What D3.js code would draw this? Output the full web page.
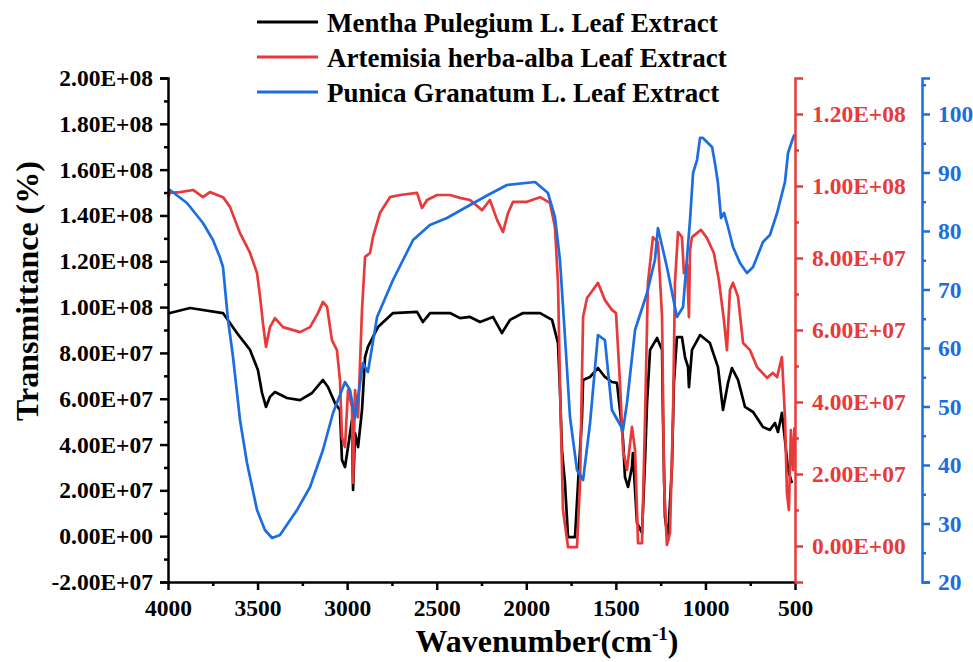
<!DOCTYPE html>
<html><head><meta charset="utf-8">
<script src="https://cdn.jsdelivr.net/npm/d3@7"></script>
<style>
body{margin:0;background:#fff}
text{font-family:"Liberation Serif","Times New Roman",serif;font-weight:bold}
</style>
</head><body>
<svg id="chart" width="973" height="662"></svg>
<script>
// ---------- data ----------
const seriesNames = ["Mentha Pulegium L. Leaf Extract","Artemisia herba-alba Leaf Extract","Punica Granatum L. Leaf Extract"];
const seriesColors = ["#000000","#e83a3a","#1c6ee0"];
const xTicks = [4000,3500,3000,2500,2000,1500,1000,500];
const xMinorTicks = [3750,3250,2750,2250,1750,1250,750];
const leftTicks = [-2e7,0,2e7,4e7,6e7,8e7,1e8,1.2e8,1.4e8,1.6e8,1.8e8,2e8];
const leftMinorTicks = [-1e7,1e7,3e7,5e7,7e7,9e7,1.1e8,1.3e8,1.5e8,1.7e8,1.9e8];
const redTicks = [0,2e7,4e7,6e7,8e7,1e8,1.2e8];
const redMinorTicks = [1e7,3e7,5e7,7e7,9e7,1.1e8];
const blueTicks = [20,30,40,50,60,70,80,90,100];
const blueMinorTicks = [25,35,45,55,65,75,85,95,105];

// Mentha Pulegium (left axis) [wavenumber, transmittance]
const mentha = [[4000,9.70e7],[3989,9.74e7],[3877,9.96e7],[3693,9.74e7],[3615,8.87e7],[3542,8.13e7],[3498,7.25e7],[3475,6.25e7],[3453,5.64e7],[3431,6.08e7],[3403,6.29e7],[3336,6.03e7],[3263,5.94e7],[3196,6.25e7],[3135,6.82e7],[3107,6.51e7],[3068,5.81e7],[3040,5.51e7],[3029,3.33e7],[3012,3.02e7],[2995,3.89e7],[2973,5.07e7],[2967,2.02e7],[2956,4.50e7],[2939,3.89e7],[2917,5.51e7],[2900,7.82e7],[2884,8.26e7],[2828,9.13e7],[2744,9.74e7],[2610,9.79e7],[2577,9.35e7],[2537,9.74e7],[2426,9.74e7],[2370,9.52e7],[2314,9.57e7],[2258,9.35e7],[2186,9.57e7],[2136,8.87e7],[2091,9.44e7],[2018,9.74e7],[1923,9.74e7],[1856,9.44e7],[1823,8.43e7],[1812,6.38e7],[1801,3.76e7],[1784,2.32e7],[1767,-0.04e7],[1728,-0.04e7],[1711,2.32e7],[1689,5.20e7],[1683,6.82e7],[1644,6.95e7],[1600,7.34e7],[1561,6.95e7],[1522,6.73e7],[1494,6.69e7],[1477,5.51e7],[1460,4.20e7],[1449,2.58e7],[1432,2.15e7],[1410,3.02e7],[1405,3.63e7],[1382,0.58e7],[1354,0.14e7],[1337,3.33e7],[1326,5.81e7],[1309,8.13e7],[1270,8.65e7],[1242,8.13e7],[1237,5.20e7],[1226,0.84e7],[1209,-0.17e7],[1187,3.02e7],[1176,6.69e7],[1159,8.69e7],[1131,8.69e7],[1114,7.82e7],[1097,7.38e7],[1092,6.51e7],[1075,8.13e7],[1030,8.78e7],[975,8.43e7],[930,7.38e7],[902,5.51e7],[874,6.69e7],[852,7.34e7],[818,6.82e7],[779,5.64e7],[734,5.42e7],[679,4.77e7],[640,4.64e7],[612,4.94e7],[595,4.55e7],[573,5.38e7],[556,4.20e7],[539,2.89e7],[517,2.32e7]];

// Artemisia herba-alba (red right axis)
const artemisia = [[4000,9.69e7],[3989,9.81e7],[3933,9.83e7],[3860,9.89e7],[3805,9.69e7],[3766,9.83e7],[3693,9.69e7],[3654,9.42e7],[3598,8.69e7],[3542,8.14e7],[3503,7.58e7],[3486,6.92e7],[3470,6.19e7],[3453,5.53e7],[3431,6.08e7],[3403,6.33e7],[3358,6.08e7],[3263,5.94e7],[3207,6.08e7],[3163,6.47e7],[3135,6.78e7],[3112,6.64e7],[3085,5.72e7],[3057,5.44e7],[3040,4.61e7],[3029,3.03e7],[3012,2.75e7],[2995,4.33e7],[2973,3.86e7],[2967,1.75e7],[2956,4.33e7],[2939,3.58e7],[2917,6.56e7],[2900,8.03e7],[2872,8.14e7],[2856,8.58e7],[2817,9.25e7],[2761,9.69e7],[2705,9.75e7],[2610,9.81e7],[2582,9.39e7],[2554,9.61e7],[2498,9.75e7],[2426,9.75e7],[2370,9.67e7],[2314,9.61e7],[2247,9.33e7],[2203,9.61e7],[2163,9.06e7],[2130,8.72e7],[2102,9.25e7],[2074,9.56e7],[1996,9.56e7],[1923,9.69e7],[1868,9.53e7],[1840,8.86e7],[1823,7.31e7],[1812,4.53e7],[1795,1.00e7],[1767,-0.03e7],[1717,-0.03e7],[1700,1.75e7],[1683,6.36e7],[1661,6.89e7],[1628,7.11e7],[1600,7.31e7],[1561,6.83e7],[1522,6.56e7],[1499,6.47e7],[1477,4.53e7],[1460,2.67e7],[1438,2.11e7],[1410,3.31e7],[1393,2.67e7],[1376,0.08e7],[1354,0.08e7],[1337,3.58e7],[1321,7.31e7],[1293,8.58e7],[1265,8.44e7],[1242,6.36e7],[1231,1.75e7],[1215,0.03e7],[1198,0.36e7],[1181,3.58e7],[1170,7.31e7],[1153,8.72e7],[1131,8.58e7],[1120,7.58e7],[1103,7.81e7],[1092,6.36e7],[1086,8.22e7],[1075,8.58e7],[1025,8.78e7],[992,8.56e7],[953,8.14e7],[925,7.39e7],[897,6.28e7],[880,5.44e7],[863,7.11e7],[846,7.31e7],[818,6.92e7],[790,5.64e7],[751,5.44e7],[712,4.97e7],[656,4.67e7],[623,4.81e7],[600,4.69e7],[573,5.25e7],[556,3.58e7],[545,1.47e7],[534,1.00e7],[523,3.22e7],[511,2.11e7],[503,3.30e7]];

// Punica Granatum (blue right axis)
const punica = [[4000,87.0],[3989,87.0],[3894,84.78],[3805,81.36],[3749,78.46],[3710,75.5],[3693,73.84],[3665,64.78],[3637,58.46],[3598,47.69],[3559,40.34],[3503,32.3],[3459,28.89],[3419,27.52],[3375,28.03],[3280,32.3],[3207,36.24],[3135,42.56],[3079,48.89],[3012,54.18],[2984,52.82],[2956,48.03],[2928,53.97],[2912,57.43],[2884,55.89],[2833,65.3],[2744,71.62],[2632,78.46],[2538,81.02],[2443,82.22],[2314,84.44],[2214,86.15],[2108,87.86],[1951,88.37],[1879,86.49],[1840,82.39],[1812,75.04],[1784,61.88],[1756,48.2],[1717,39.14],[1683,37.43],[1644,47.18],[1600,62.22],[1561,61.36],[1522,49.4],[1460,45.98],[1438,50.6],[1393,63.07],[1326,69.4],[1282,75.04],[1265,80.51],[1215,73.84],[1159,65.3],[1125,67.0],[1086,81.88],[1069,89.91],[1047,92.13],[1030,95.9],[1014,95.9],[986,95.04],[963,94.36],[947,91.62],[930,88.2],[913,82.22],[896,83.08],[874,80.68],[846,77.26],[807,74.53],[768,72.82],[734,73.84],[679,78.12],[640,79.31],[600,83.08],[556,88.37],[539,93.33],[511,95.9],[503,96.5]];

// ---------- layout ----------
const L = 168, R = 795, T = 78, B = 582;
const blueX = 922;
const svg = d3.select("#chart");

const x = d3.scaleLinear().domain([4000,500]).range([L,R]);
const yL = d3.scaleLinear().domain([-2e7,2e8]).range([B,T]);
const yR = d3.scaleLinear().domain([-1e7,1.3e8]).range([B,T]);
const yB = d3.scaleLinear().domain([20,106.15]).range([B,T]);

function sci(v){
  if (v === 0) return "0.00E+00";
  const e = Math.floor(Math.log10(Math.abs(v)) + 1e-9);
  const m = v / Math.pow(10,e);
  return m.toFixed(2) + "E" + (e>=0?"+":"-") + String(Math.abs(e)).padStart(2,"0");
}

function styleAxis(g, color, fs){
  g.selectAll("path,line").attr("stroke", color).attr("stroke-width", 2.5);
  g.selectAll("text").attr("fill", color).style("font-size", fs+"px")
    .style("font-family","'Liberation Serif','Times New Roman',serif").style("font-weight","bold");
}

// curves
const line = (ys) => d3.line().x(d=>x(d[0])).y(d=>ys(d[1]));
const datasets = [[mentha,yL],[artemisia,yR],[punica,yB]];
datasets.forEach(([data,ys],i)=>{
  svg.append("path").datum(data).attr("d", line(ys))
    .attr("fill","none").attr("stroke",seriesColors[i]).attr("stroke-width",2.7)
    .attr("stroke-linejoin","round");
});

const FS = 23.5;
// x axis
const gx = svg.append("g").attr("transform",`translate(0,${B})`);
gx.call(d3.axisBottom(x).tickValues(xTicks).tickFormat(d3.format("d")).tickSize(8).tickSizeOuter(0).tickPadding(9));
styleAxis(gx,"#000",FS);
const gxm = svg.append("g").attr("transform",`translate(0,${B})`);
gxm.call(d3.axisBottom(x).tickValues(xMinorTicks).tickFormat("").tickSize(4).tickSizeOuter(0));
gxm.select(".domain").remove();
styleAxis(gxm,"#000",FS);

// left axis
const gl = svg.append("g").attr("transform",`translate(${L},0)`);
gl.call(d3.axisLeft(yL).tickValues(leftTicks).tickFormat(sci).tickSize(8).tickSizeOuter(8).tickPadding(7));
styleAxis(gl,"#000",FS);
const glm = svg.append("g").attr("transform",`translate(${L},0)`);
glm.call(d3.axisLeft(yL).tickValues(leftMinorTicks).tickFormat("").tickSize(4).tickSizeOuter(0));
glm.select(".domain").remove();
styleAxis(glm,"#000",FS);

// red right axis
const gr = svg.append("g").attr("transform",`translate(${R},0)`);
gr.call(d3.axisRight(yR).tickValues(redTicks).tickFormat(sci).tickSize(8).tickSizeOuter(8).tickPadding(9));
styleAxis(gr,seriesColors[1],FS);
const grm = svg.append("g").attr("transform",`translate(${R},0)`);
grm.call(d3.axisRight(yR).tickValues(redMinorTicks).tickFormat("").tickSize(4).tickSizeOuter(0));
grm.select(".domain").remove();
styleAxis(grm,seriesColors[1],FS);

// blue right axis
const gb = svg.append("g").attr("transform",`translate(${blueX},0)`);
gb.call(d3.axisRight(yB).tickValues(blueTicks).tickFormat(d3.format("d")).tickSize(8).tickSizeOuter(8).tickPadding(8));
styleAxis(gb,seriesColors[2],FS);
const gbm = svg.append("g").attr("transform",`translate(${blueX},0)`);
gbm.call(d3.axisRight(yB).tickValues(blueMinorTicks).tickFormat("").tickSize(4).tickSizeOuter(0));
gbm.select(".domain").remove();
styleAxis(gbm,seriesColors[2],FS);

// axis titles
svg.append("text").attr("transform","translate(38,291) rotate(-90)")
  .attr("text-anchor","middle").style("font-size","32px").attr("fill","#000")
  .text("Transmittance (%)");
const xt = svg.append("text").attr("x",547).attr("y",652).attr("text-anchor","middle")
  .style("font-size","32px").attr("fill","#000");
xt.append("tspan").text("Wavenumber(cm");
xt.append("tspan").attr("dy",-12).style("font-size","19px").text("-1");
xt.append("tspan").attr("dy",12).text(")");

// legend
const legY = [22,57,92];
seriesNames.forEach((name,i)=>{
  svg.append("line").attr("x1",257).attr("x2",318).attr("y1",legY[i]).attr("y2",legY[i])
    .attr("stroke",seriesColors[i]).attr("stroke-width",2.8);
  svg.append("text").attr("x",327).attr("y",legY[i]+9.5).style("font-size","27px")
    .attr("fill","#000").text(name);
});
</script>
</body></html>
